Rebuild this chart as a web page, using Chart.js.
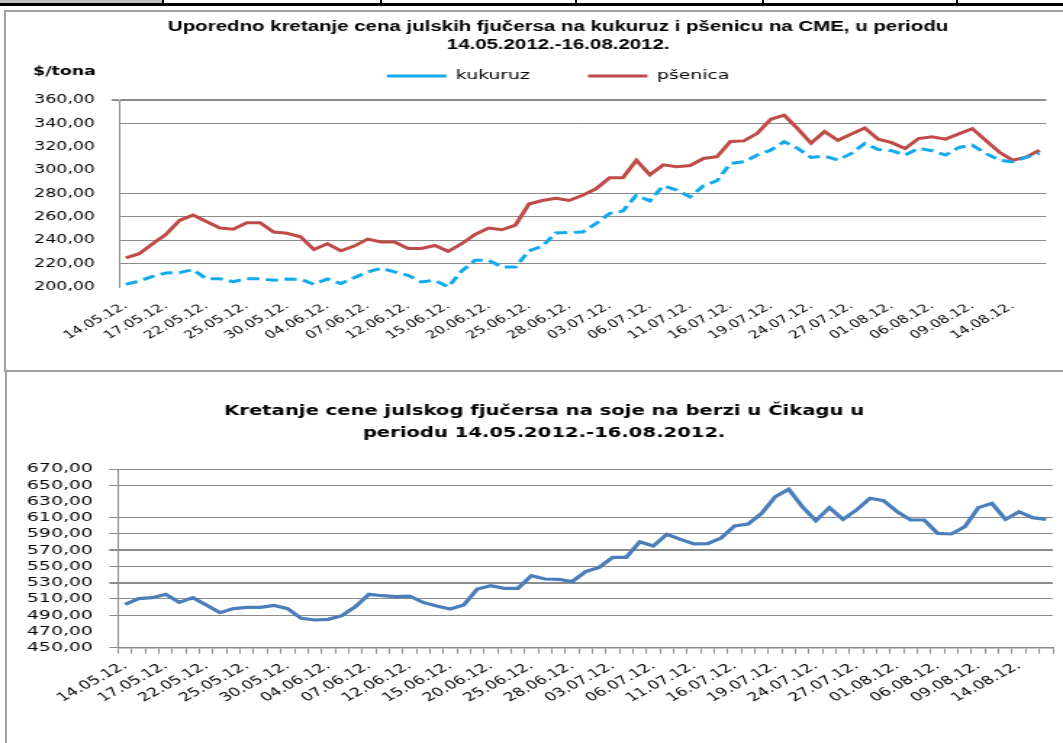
<!DOCTYPE html>
<html><head><meta charset="utf-8">
<script src="https://cdn.jsdelivr.net/npm/chart.js@4.4.1/dist/chart.umd.min.js"></script>
<style>
html,body{margin:0;padding:0;background:#fff;}
body{width:1063px;height:743px;position:relative;overflow:hidden;}
.blk{position:absolute;}
</style></head>
<body>
<div class="blk" style="left:0;top:0;width:163px;height:3px;background:#c0c0c0"></div>
<div class="blk" style="left:0;top:3px;width:1063px;height:3px;background:#000"></div>
<div class="blk" style="left:162px;top:0;width:2px;height:4px;background:#000"></div>
<div class="blk" style="left:380px;top:0;width:2px;height:4px;background:#000"></div>
<div class="blk" style="left:575px;top:0;width:2px;height:4px;background:#000"></div>
<div class="blk" style="left:762px;top:0;width:2px;height:4px;background:#000"></div>
<div class="blk" style="left:956px;top:0;width:2px;height:4px;background:#000"></div>
<div class="blk" style="left:4px;top:10px;width:1070px;height:2px;background:#a0a0a0"></div>
<div class="blk" style="left:4px;top:10px;width:2px;height:362px;background:#a0a0a0"></div>
<div class="blk" style="left:4px;top:370px;width:1070px;height:2px;background:#a0a0a0"></div>
<div class="blk" style="left:5px;top:370px;width:2px;height:380px;background:#a0a0a0"></div>
<canvas id="c1" width="733" height="358" style="position:absolute;left:0;top:12px;width:1063px;height:358px;"></canvas>
<canvas id="c2" width="733" height="370" style="position:absolute;left:0;top:373px;width:1063px;height:370px;"></canvas>
<script>
const dates = ['14.05.12.','15.05.12.','16.05.12.','17.05.12.','18.05.12.','21.05.12.','22.05.12.','23.05.12.','24.05.12.','25.05.12.','28.05.12.','29.05.12.','30.05.12.','31.05.12.',
'01.06.12.','04.06.12.','05.06.12.','06.06.12.','07.06.12.','08.06.12.','11.06.12.','12.06.12.','13.06.12.','14.06.12.','15.06.12.','18.06.12.','19.06.12.','20.06.12.','21.06.12.','22.06.12.','25.06.12.','26.06.12.','27.06.12.','28.06.12.','29.06.12.',
'02.07.12.','03.07.12.','04.07.12.','05.07.12.','06.07.12.','09.07.12.','10.07.12.','11.07.12.','12.07.12.','13.07.12.','16.07.12.','17.07.12.','18.07.12.','19.07.12.','20.07.12.','23.07.12.','24.07.12.','25.07.12.','26.07.12.','27.07.12.','30.07.12.','31.07.12.',
'01.08.12.','02.08.12.','03.08.12.','06.08.12.','07.08.12.','08.08.12.','09.08.12.','10.08.12.','13.08.12.','14.08.12.','15.08.12.','16.08.12.'];

const tickDates = ['14.05.12.','17.05.12.','22.05.12.','25.05.12.','30.05.12.','04.06.12.','07.06.12.','12.06.12.','15.06.12.','20.06.12.','25.06.12.','28.06.12.','03.07.12.','06.07.12.','11.07.12.','16.07.12.','19.07.12.','24.07.12.','27.07.12.','01.08.12.','06.08.12.','09.08.12.','14.08.12.'];

const kukuruz = [202.3,205.1,209.1,212.0,212.3,214.9,207.1,207.1,204.6,207.1,207.1,205.7,206.9,206.6,202.3,206.9,202.9,208.0,212.9,216.0,213.0,210.0,204.3,205.7,200.0,213.7,222.9,222.9,217.1,217.1,230.9,234.9,246.3,246.6,247.1,254.3,262.9,265.1,278.6,273.7,286.6,282.9,277.1,286.6,290.9,305.7,307.1,312.9,317.1,324.3,318.6,310.9,312.0,308.6,314.3,322.9,317.7,316.6,312.9,318.6,316.6,312.9,319.4,321.4,314.3,308.6,307.1,310.9,314.3];

const psenica = [225.0,228.5,237.0,245.0,257.0,261.5,256.0,250.5,249.5,255.0,255.0,247.0,246.0,243.0,232.0,237.0,231.0,235.0,241.0,238.5,238.5,233.0,233.0,235.5,230.5,237.0,245.0,250.5,249.0,253.0,271.0,274.0,276.0,274.0,278.5,284.0,293.5,293.5,308.5,296.0,304.5,303.0,304.0,310.0,311.5,324.5,325.0,331.5,343.5,347.0,335.5,323.0,333.0,325.5,331.0,336.0,326.5,323.5,318.5,327.0,328.5,326.5,331.0,335.5,325.5,315.5,308.5,311.0,317.0];

const soja = [503.4,510.4,511.6,515.7,505.8,511.6,502.6,493.1,498.1,499.7,499.7,502.1,498.1,486.1,484.1,484.9,489.4,500.5,515.7,514.0,513.0,513.6,505.8,501.3,497.6,502.6,522.3,526.4,523.1,523.1,538.7,534.6,534.2,531.3,543.6,548.9,561.2,561.2,580.5,575.2,589.6,583.4,577.7,578.0,585.0,600.0,602.3,615.4,635.9,645.0,623.6,606.4,622.4,608.0,619.5,633.9,631.0,617.5,607.2,607.2,590.8,590.0,599.0,622.4,627.7,608.0,617.5,610.1,608.0];

const range1 = [200, 360], step1 = 20;
const range2 = [450, 670], step2 = 20;
const title1 = ['Uporedno kretanje cena julskih fjučersa na kukuruz i pšenicu na CME, u periodu', '14.05.2012.-16.08.2012.'];
const title2 = ['Kretanje cene julskog fjučersa na soje na berzi u Čikagu u', 'periodu 14.05.2012.-16.08.2012.'];
const unitText = '$/tona';

const fmt = v => Number(v).toFixed(2).replace('.', ',');
const GRID = '#8c8c8c';
const NONE = 'rgba(0,0,0,0)';
const dateTick = (v, i) => tickDates.includes(dates[i]) ? dates[i] : '';

const unitLabel = {
  id: 'unitLabel',
  afterDraw(chart) {
    const ctx = chart.ctx;
    ctx.save();
    ctx.font = 'bold 12px "DejaVu Sans"';
    ctx.fillStyle = '#000';
    ctx.textAlign = 'left';
    ctx.textBaseline = 'middle';
    ctx.fillText(unitText, chart.chartArea.left - 59.3, chart.chartArea.top - 28);
    ctx.restore();
  }
};

new Chart(document.getElementById('c1'), {
  type: 'line',
  data: {
    labels: dates,
    datasets: [
      {label: 'kukuruz', data: kukuruz, borderColor: '#12aaea', backgroundColor: '#12aaea', borderWidth: 3, borderDash: [8.5, 4.5], pointRadius: 0, pointStyle: 'line', tension: 0},
      {label: 'pšenica', data: psenica, borderColor: '#be4b48', backgroundColor: '#be4b48', borderWidth: 3, pointRadius: 0, pointStyle: 'line', tension: 0}
    ]
  },
  options: {
    responsive: false, animation: false, devicePixelRatio: 1,
    layout: {padding: {left: 48.3, right: 11.6, top: 0, bottom: 0}},
    plugins: {
      title: {display: true, text: title1, color: '#000', font: {family: '"Liberation Sans", Arial', weight: 'bold', size: 14.1, lineHeight: 18/14.1}, padding: {top: 6, bottom: -24.5}},
      legend: {display: true, labels: {usePointStyle: true, pointStyle: 'line', pointStyleWidth: 41, boxHeight: 13, padding: 40, color: '#000', font: {family: '"DejaVu Sans"', size: 13}}},
      subtitle: {display: true, text: '', weight: 900, padding: 0, font: {size: 7.5, lineHeight: 1}},
      tooltip: {enabled: false}
    },
    scales: {
      x: {
        offset: true,
        grid: {display: false, drawTicks: false},
        border: {display: false},
        ticks: {autoSkip: false, minRotation: 38, maxRotation: 38, padding: 12.5, color: '#000', font: {family: '"DejaVu Sans"', size: 11}, callback: dateTick},
        afterFit: s => { s.height = 83; s.paddingLeft = 0; s.paddingRight = 0; }
      },
      y: {
        min: range1[0], max: range1[1],
        ticks: {stepSize: step1, autoSkip: false, mirror: true, padding: -58.6, color: '#000', font: {family: '"DejaVu Sans"', size: 12}, callback: v => fmt(v)},
        grid: {
          color: c => (c.tick && [200, 300, 320].includes(c.tick.value)) ? NONE : GRID,
          lineWidth: c => (c.tick && c.tick.value === 360) ? 2 : 1,
          drawTicks: true, tickLength: 5,
          tickColor: c => (c.tick && c.tick.value === 360) ? GRID : NONE
        },
        border: {display: true, color: GRID, width: 1},
        afterFit: s => { s.width = 33.8; }
      }
    }
  },
  plugins: [unitLabel]
});

new Chart(document.getElementById('c2'), {
  type: 'line',
  data: {
    labels: dates,
    datasets: [
      {label: 'soja', data: soja, borderColor: '#4a7ebb', backgroundColor: '#4a7ebb', borderWidth: 3.2, pointRadius: 0, tension: 0}
    ]
  },
  options: {
    responsive: false, animation: false, devicePixelRatio: 1,
    layout: {padding: {left: 24.4, right: 7, top: 0, bottom: 0}},
    plugins: {
      title: {display: true, text: title2, color: '#000', font: {family: '"DejaVu Sans"', weight: 'bold', size: 13.5, lineHeight: 22/13.5}, padding: {top: 27, bottom: 25}},
      legend: {display: false},
      tooltip: {enabled: false}
    },
    scales: {
      x: {
        offset: true,
        grid: {offset: true, drawOnChartArea: false, drawTicks: true, tickLength: 6, color: GRID},
        border: {display: true, color: GRID, width: 1.5},
        ticks: {autoSkip: false, minRotation: 38, maxRotation: 38, padding: 5, color: '#000', font: {family: '"DejaVu Sans"', size: 12}, callback: dateTick},
        afterFit: s => { s.height = 95.3; s.paddingLeft = 0; s.paddingRight = 0; }
      },
      y: {
        min: range2[0], max: range2[1],
        ticks: {stepSize: step2, autoSkip: false, mirror: true, padding: -63, color: '#000', font: {family: '"DejaVu Sans"', size: 13}, callback: v => fmt(v)},
        grid: {
          color: c => (c.tick && [470, 630].includes(c.tick.value)) ? NONE : GRID,
          lineWidth: c => (c.tick && [530, 570].includes(c.tick.value)) ? 2 : 1,
          drawTicks: true, tickLength: 6.2,
          tickColor: c => (c.tick && [470, 630].includes(c.tick.value)) ? NONE : GRID
        },
        border: {display: true, color: GRID, width: 1},
        afterFit: s => { s.width = 57.2; }
      }
    }
  }
});
</script>
</body></html>
